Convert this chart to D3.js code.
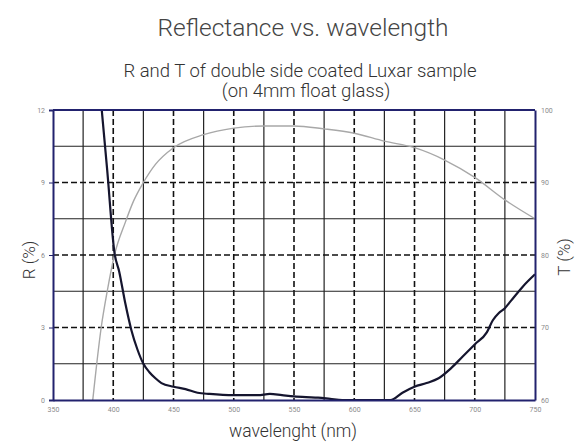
<!DOCTYPE html>
<html>
<head>
<meta charset="utf-8">
<script src="https://cdn.jsdelivr.net/npm/d3@7"></script>
<style>
  body { margin: 0; background: #fff; }
  text { font-family: Roboto, 'Open Sans', sans-serif; }
</style>
</head>
<body>
<div id="chart"></div>
<script>
// Reflectance (R, left axis) and transmittance (T, right axis)
const rWave = [389, 395, 401, 405, 410, 415, 420, 425, 430, 435, 440, 450, 460, 470, 480, 500, 520, 530, 540, 550, 560, 570, 580, 590, 610, 630, 640, 650, 660, 670, 680, 690, 700, 710, 715, 720, 725, 730, 740, 750]
const rValues = [12.8, 9.5, 6.1, 5.3, 4.0, 2.9, 2.1, 1.5, 1.15, 0.9, 0.7, 0.55, 0.45, 0.3, 0.25, 0.2, 0.2, 0.25, 0.2, 0.15, 0.12, 0.1, 0.05, 0, 0, 0, 0.3, 0.55, 0.7, 0.9, 1.3, 1.8, 2.3, 2.8, 3.3, 3.6, 3.8, 4.1, 4.7, 5.2]

const tWave = [383, 390, 395, 401, 410, 417, 425, 435, 450, 475, 500, 525, 550, 575, 600, 625, 650, 675, 700, 725, 750]
const tValues = [60, 70, 75, 80, 84.5, 87.5, 90, 92.5, 94.8, 96.6, 97.5, 97.8, 97.8, 97.4, 96.8, 95.7, 94.8, 93.1, 90.7, 87.6, 85]

const xTicks = [350, 400, 450, 500, 550, 600, 650, 700, 750]
const rTicks = [0, 3, 6, 9, 12]
const tTicks = [60, 70, 80, 90, 100]

const W = 576
const H = 443
const margin = { top: 110, right: 41, bottom: 43, left: 53 }
const width = W - margin.left - margin.right
const height = H - margin.top - margin.bottom

const navy = '#22226e'

const svg = d3.select('#chart').append('svg').attr('width', W).attr('height', H)

const g = svg.append('g').attr('transform', `translate(${margin.left}, ${margin.top})`)

const x = d3.scaleLinear().domain([350, 750]).range([0, width])
const yR = d3.scaleLinear().domain([0, 12]).range([height, 0])
const yT = d3.scaleLinear().domain([60, 100]).range([height, 0])

// grid: dashed at labelled values, thin solid halfway between
const vMinor = d3.range(375, 750, 50)
const vMajor = d3.range(400, 750, 50)
const hMinor = d3.range(1.5, 12, 3)
const hMajor = [3, 6, 9]

g.selectAll('.vminor').data(vMinor).join('line')
  .attr('x1', (d) => x(d)).attr('x2', (d) => x(d))
  .attr('y1', 0).attr('y2', height)
  .attr('stroke', '#222').attr('stroke-width', 1.2)

g.selectAll('.vmajor').data(vMajor).join('line')
  .attr('x1', (d) => x(d)).attr('x2', (d) => x(d))
  .attr('y1', 0).attr('y2', height)
  .attr('stroke', '#111').attr('stroke-width', 1.6)
  .attr('stroke-dasharray', '6,3')

g.selectAll('.hminor').data(hMinor).join('line')
  .attr('x1', 0).attr('x2', width)
  .attr('y1', (d) => yR(d)).attr('y2', (d) => yR(d))
  .attr('stroke', '#222').attr('stroke-width', 1.2)

g.selectAll('.hmajor').data(hMajor).join('line')
  .attr('x1', 0).attr('x2', width)
  .attr('y1', (d) => yR(d)).attr('y2', (d) => yR(d))
  .attr('stroke', '#111').attr('stroke-width', 1.6)
  .attr('stroke-dasharray', '6,3')

// curves
g.append('clipPath').attr('id', 'clip')
  .append('rect').attr('width', width).attr('height', height)

const rLine = d3.line().x((d) => x(d[0])).y((d) => yR(d[1])).curve(d3.curveMonotoneX)
const tLine = d3.line().x((d) => x(d[0])).y((d) => yT(d[1])).curve(d3.curveMonotoneX)

g.append('path')
  .datum(d3.zip(tWave, tValues))
  .attr('clip-path', 'url(#clip)')
  .attr('fill', 'none')
  .attr('stroke', '#a8a8a8')
  .attr('stroke-width', 1.4)
  .attr('d', tLine)

g.append('path')
  .datum(d3.zip(rWave, rValues))
  .attr('clip-path', 'url(#clip)')
  .attr('fill', 'none')
  .attr('stroke', '#15152e')
  .attr('stroke-width', 2.2)
  .attr('d', rLine)

// axes
const xAxis = g.append('g')
  .attr('transform', `translate(0, ${height})`)
  .call(d3.axisBottom(x).tickValues(xTicks).tickSize(0).tickPadding(7))
const leftAxis = g.append('g')
  .call(d3.axisLeft(yR).tickValues(rTicks).tickSize(4).tickPadding(4))
const rightAxis = g.append('g')
  .attr('transform', `translate(${width}, 0)`)
  .call(d3.axisRight(yT).tickValues(tTicks).tickSize(0).tickPadding(6))

;[xAxis, leftAxis, rightAxis].forEach((a) => {
  a.select('.domain').attr('stroke', navy).attr('stroke-width', 2)
  a.selectAll('.tick line').attr('stroke', navy)
  a.selectAll('.tick text').attr('fill', '#8a8a8a').style('font-size', '7px')
})

g.append('line')
  .attr('x1', 0).attr('x2', width).attr('y1', 0).attr('y2', 0)
  .attr('stroke', navy).attr('stroke-width', 2)

// titles
svg.append('text')
  .attr('x', 303).attr('y', 36)
  .attr('text-anchor', 'middle')
  .attr('fill', '#444')
  .style('font-size', '24.5px')
  .style('font-weight', 300)
  .text('Reflectance vs. wavelength')

svg.append('text')
  .attr('x', 300).attr('y', 77)
  .attr('text-anchor', 'middle')
  .attr('fill', '#333')
  .style('font-size', '18.5px')
  .style('font-weight', 300)
  .text('R and T of double side coated Luxar sample')

svg.append('text')
  .attr('x', 306).attr('y', 97)
  .attr('text-anchor', 'middle')
  .attr('fill', '#333')
  .style('font-size', '18.5px')
  .style('font-weight', 300)
  .text('(on 4mm float glass)')

svg.append('text')
  .attr('x', 293).attr('y', 437)
  .attr('text-anchor', 'middle')
  .attr('fill', '#333')
  .style('font-size', '17.5px')
  .style('font-weight', 300)
  .text('wavelenght (nm)')

svg.append('text')
  .attr('transform', 'translate(35, 260) rotate(-90)')
  .attr('text-anchor', 'middle')
  .attr('fill', '#333')
  .style('font-size', '17px')
  .style('font-weight', 300)
  .text('R (%)')

svg.append('text')
  .attr('transform', 'translate(570, 257) rotate(-90)')
  .attr('text-anchor', 'middle')
  .attr('fill', '#333')
  .style('font-size', '17px')
  .style('font-weight', 300)
  .text('T (%)')
</script>
</body>
</html>
